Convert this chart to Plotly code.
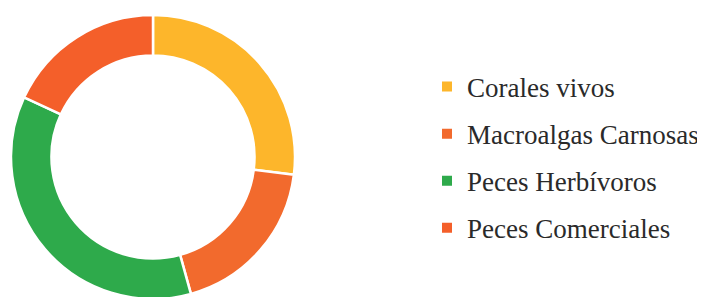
import plotly.graph_objects as go

labels = ["Corales vivos", "Macroalgas Carnosas", "Peces Herbívoros", "Peces Comerciales"]
values = [27, 18.7, 36.2, 18.1]
colors = ["#FDB62B", "#F26A2D", "#2EAA4B", "#F45F2A"]

W, H = 705, 297
TOP = 7          # page has an 8px body margin; figure coordinates compensate
fig = go.Figure()

fig.add_trace(go.Pie(
    labels=labels,
    values=values,
    hole=0.715,
    sort=False,
    direction="clockwise",
    rotation=0,
    marker=dict(colors=colors, line=dict(color="white", width=2.5)),
    textinfo="none",
    hoverinfo="label+percent",
    showlegend=False,
    domain=dict(x=[3 / W, 287 / W], y=[(H - TOP - 284) / (H - TOP), 1]),
))

# legend entries (one group each so the gap between rows can be set)
for lab, col in zip(labels, colors):
    fig.add_trace(go.Scatter(
        x=[None], y=[None], mode="markers", name=lab,
        legendgroup=lab,
        marker=dict(symbol="square", size=10, color=col),
        hoverinfo="skip",
    ))

fig.update_layout(
    width=W, height=H,
    margin=dict(l=0, r=0, t=TOP, b=0, autoexpand=False),
    paper_bgcolor="white", plot_bgcolor="white",
    xaxis=dict(visible=False), yaxis=dict(visible=False),
    legend=dict(
        x=419 / W, y=(H - 149.5) / (H - TOP), xanchor="left", yanchor="middle",
        font=dict(family="Liberation Serif", size=27, color="#2a2a2a"),
        tracegroupgap=9,
        traceorder="grouped",
        maxheight=297,
        bgcolor="rgba(0,0,0,0)",
    ),
)

fig.write_html("out.html")
